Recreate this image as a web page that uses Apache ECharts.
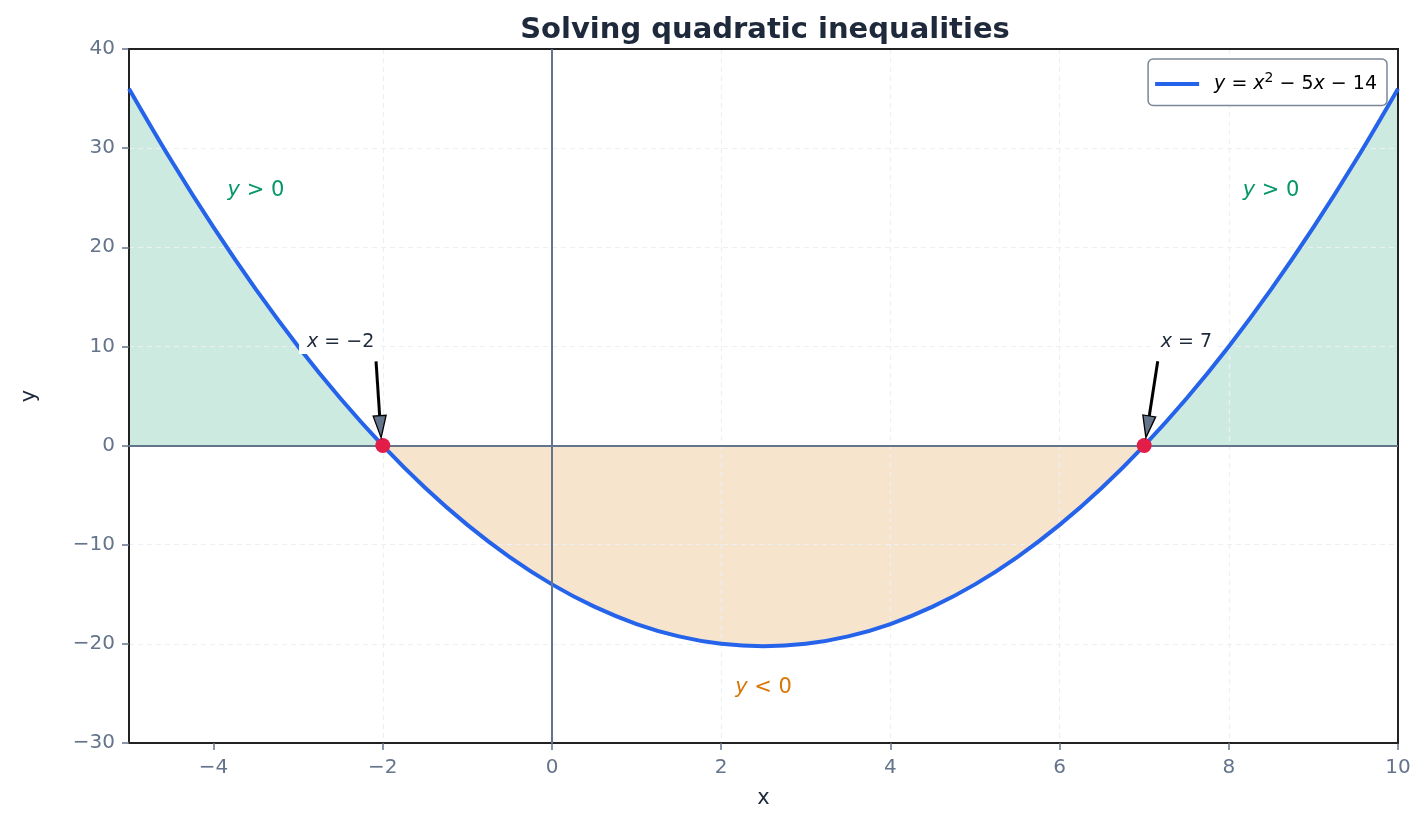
<!DOCTYPE html>
<html>
<head>
<meta charset="utf-8">
<title>Solving quadratic inequalities</title>
<script src="https://cdn.jsdelivr.net/npm/echarts@6/dist/echarts.min.js"></script>
<style>
  html, body { margin: 0; padding: 0; background: #fff; }
  #chart { width: 1425px; height: 825px; }
</style>
</head>
<body>
<div id="chart"></div>
<script>
// values
const xValues = [-5, -4.5, -4, -3.5, -3, -2.5, -2, -1.5, -1, -0.5, 0, 0.5, 1, 1.5, 2, 2.5,
  3, 3.5, 4, 4.5, 5, 5.5, 6, 6.5, 7, 7.5, 8, 8.5, 9, 9.5, 10];
const yValues = [36, 28.75, 22, 15.75, 10, 4.75, 0, -4.25, -8, -11.25, -14, -16.25, -18, -19.25, -20, -20.25,
  -20, -19.25, -18, -16.25, -14, -11.25, -8, -4.25, 0, 4.75, 10, 15.75, 22, 28.75, 36];
const xTicks = [-4, -2, 0, 2, 4, 6, 8, 10];
const roots = [-2, 7];
const rootLabels = ['−2', '7'];
const rootLabelAnchors = [[-2.99, 10.4], [7.1, 10.4]];
const arrowTails = [[-2.08, 8.5], [7.16, 8.5]];
const arrowTips = [[-2.02, 0.8], [7.02, 0.8]];
const regionAnchors = [[-3.5, 25.7], [8.5, 25.7], [2.5, -24.4]];
const regionSigns = ['>', '>', '<'];
const curveName = 'y = x² − 5x − 14';

const FONT = 'DejaVu Sans';
const GREEN = '#059669';
const ORANGE = '#d97706';
const SLATE = '#64748b';

const chart = echarts.init(document.getElementById('chart'), null, { renderer: 'canvas' });

const points = xValues.map((x, i) => [x, yValues[i]]);
const leftIdx = xValues.indexOf(roots[0]);
const rightIdx = xValues.indexOf(roots[1]);
const leftPart = points.slice(0, leftIdx + 1);
const midPart = points.slice(leftIdx, rightIdx + 1);
const rightPart = points.slice(rightIdx);

const minus = v => (v < 0 ? '−' + Math.abs(v) : String(v));

function fillSeries(data, color) {
  return {
    type: 'line',
    data: data,
    smooth: 0.4,
    showSymbol: false,
    silent: true,
    lineStyle: { width: 0 },
    areaStyle: { color: color, origin: 0, opacity: 1 },
    z: 1
  };
}

// arrows from the labels to the roots
function renderArrow(params, api) {
  const a = api.coord([api.value(0), api.value(1)]);
  const b = api.coord([api.value(2), api.value(3)]);
  const dx = b[0] - a[0], dy = b[1] - a[1];
  const len = Math.sqrt(dx * dx + dy * dy);
  const ux = dx / len, uy = dy / len;
  const headLen = 22, headW = 6.5;
  const base = [b[0] - ux * headLen, b[1] - uy * headLen];
  return {
    type: 'group',
    children: [
      { type: 'line', shape: { x1: a[0], y1: a[1], x2: base[0], y2: base[1] },
        style: { stroke: '#000', lineWidth: 3 } },
      { type: 'polygon', shape: { points: [
          [b[0], b[1]],
          [base[0] - uy * headW, base[1] + ux * headW],
          [base[0] + uy * headW, base[1] - ux * headW]
        ] },
        style: { fill: SLATE, stroke: '#000', lineWidth: 1.3 } }
    ]
  };
}

function renderRootLabel(params, api) {
  const p = api.coord([api.value(0), api.value(1)]);
  return {
    type: 'text', x: p[0], y: p[1],
    style: {
      text: '{i|x} = ' + rootLabels[params.dataIndex],
      fontFamily: FONT, fontSize: 19, fill: '#1e293b',
      align: 'left', verticalAlign: 'middle',
      backgroundColor: '#fff', padding: [2, 3, 2, 8],
      rich: { i: { fontStyle: 'italic', fontFamily: FONT, fontSize: 19, fill: '#1e293b' } }
    }
  };
}

function renderRegionLabel(params, api) {
  const p = api.coord([api.value(0), api.value(1)]);
  const col = regionSigns[params.dataIndex] === '>' ? GREEN : ORANGE;
  return {
    type: 'text', x: p[0], y: p[1],
    style: {
      text: '{i|y} ' + regionSigns[params.dataIndex] + ' 0',
      fontFamily: FONT, fontSize: 21, fill: col,
      align: 'center', verticalAlign: 'middle',
      rich: { i: { fontStyle: 'italic', fontFamily: FONT, fontSize: 21, fill: col } }
    }
  };
}

const gridLine = { show: true, showMinLine: false, showMaxLine: false,
  lineStyle: { color: '#eceff3', width: 1.2, type: [5, 4] } };

// top / right spines, drawn above the grid lines
const spineOnly = {
  type: 'value',
  axisLine: { show: true, onZero: false, lineStyle: { color: '#222', width: 2 } },
  axisTick: { show: false }, axisLabel: { show: false }, splitLine: { show: false },
  z: 4
};

const option = {
  backgroundColor: '#fff',
  animation: false,
  title: {
    text: 'Solving quadratic inequalities',
    left: 760, top: 11, textAlign: 'center',
    textStyle: { fontFamily: FONT, fontSize: 29, fontWeight: 'bold', color: '#1e293b' }
  },
  grid: {
    left: 129, right: 27, top: 49, bottom: 82,
    show: true, borderColor: '#222', borderWidth: 2, backgroundColor: 'transparent'
  },
  legend: {
    data: [curveName],
    right: 38, top: 59,
    padding: [12, 10, 12, 7],
    borderColor: '#7b8796', borderWidth: 1.5, borderRadius: 5,
    backgroundColor: '#fff',
    icon: 'rect', itemWidth: 44, itemHeight: 4,
    formatter: () => '{g| }{i|y} = {i|x}{s|2} − 5{i|x} − 14',
    textStyle: {
      fontFamily: FONT, fontSize: 19, color: '#000',
      rich: {
        g: { width: 10 },
        i: { fontStyle: 'italic', fontFamily: FONT, fontSize: 19, color: '#000' },
        s: { fontFamily: FONT, fontSize: 14, color: '#000', padding: [0, 0, 12, 0] }
      }
    }
  },
  xAxis: [{
    type: 'value', min: -5, max: 10,
    name: 'x', nameLocation: 'middle', nameGap: 45,
    nameTextStyle: { fontFamily: FONT, fontSize: 21, color: '#1e293b' },
    axisLine: { show: true, onZero: false, lineStyle: { color: '#222', width: 2 } },
    axisTick: { show: true, length: 7, customValues: xTicks, lineStyle: { color: SLATE, width: 1.5 } },
    axisLabel: { customValues: xTicks, fontFamily: FONT, fontSize: 20, color: SLATE, margin: 15, formatter: minus },
    splitLine: gridLine,
    z: 3
  }, Object.assign({}, spineOnly, { position: 'top', min: -5, max: 10 })],
  yAxis: [{
    type: 'value', min: -30, max: 40, interval: 10,
    name: 'y', nameLocation: 'middle', nameGap: 89,
    nameTextStyle: { fontFamily: FONT, fontSize: 21, color: '#1e293b' },
    axisLine: { show: true, onZero: false, lineStyle: { color: '#222', width: 2 } },
    axisTick: { show: true, length: 7, lineStyle: { color: SLATE, width: 1.5 } },
    axisLabel: { fontFamily: FONT, fontSize: 20, color: SLATE, margin: 14, formatter: minus },
    splitLine: gridLine,
    z: 3
  }, Object.assign({}, spineOnly, { position: 'right', min: -30, max: 40 })],
  series: [
    fillSeries(leftPart, 'rgba(5,150,105,0.2)'),
    fillSeries(rightPart, 'rgba(5,150,105,0.2)'),
    fillSeries(midPart, 'rgba(217,119,6,0.2)'),
    {
      // x = 0 and y = 0 reference lines
      type: 'line', data: [], silent: true, z: 2,
      markLine: {
        silent: true, symbol: 'none', label: { show: false },
        lineStyle: { color: SLATE, width: 2, type: 'solid' },
        data: [{ xAxis: 0 }, { yAxis: 0 }]
      }
    },
    {
      name: curveName,
      type: 'line',
      data: points,
      smooth: 0.4,
      showSymbol: false,
      lineStyle: { color: '#2563eb', width: 4 },
      itemStyle: { color: '#2563eb' },
      z: 4
    },
    {
      type: 'scatter',
      data: roots.map(r => [r, 0]),
      symbolSize: 15,
      itemStyle: { color: '#e11d48', opacity: 1 },
      z: 5
    },
    {
      type: 'custom',
      renderItem: renderArrow,
      data: arrowTails.map((t, i) => [t[0], t[1], arrowTips[i][0], arrowTips[i][1]]),
      encode: { x: [0, 2], y: [1, 3] },
      z: 6
    },
    {
      type: 'custom',
      renderItem: renderRootLabel,
      data: rootLabelAnchors,
      encode: { x: 0, y: 1 },
      z: 6
    },
    {
      type: 'custom',
      renderItem: renderRegionLabel,
      data: regionAnchors,
      encode: { x: 0, y: 1 },
      z: 6
    }
  ]
};

chart.setOption(option);
window.addEventListener('resize', () => chart.resize());
</script>
</body>
</html>
